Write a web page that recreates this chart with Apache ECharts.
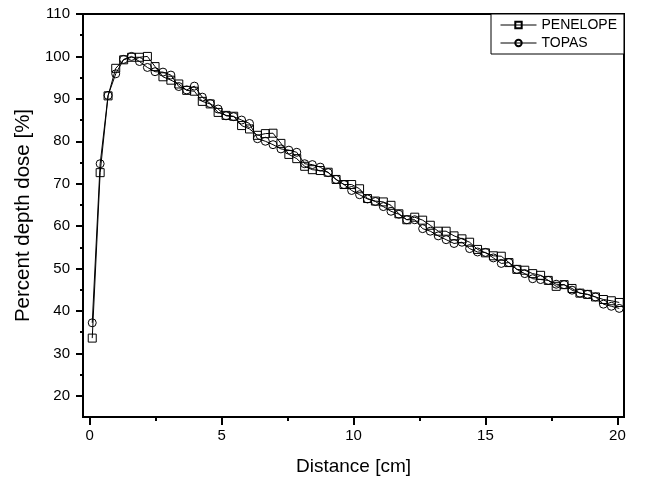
<!DOCTYPE html>
<html>
<head>
<meta charset="utf-8">
<script src="https://cdn.jsdelivr.net/npm/echarts@6/dist/echarts.min.js"></script>
<style>html,body{margin:0;padding:0;background:#fff;}#c{width:656px;height:486px;}</style>
</head>
<body>
<div id="c"></div>
<script>
var distance = [0.10,0.40,0.70,0.99,1.29,1.59,1.89,2.19,2.48,2.78,3.08,3.38,3.68,3.97,4.27,4.57,4.87,5.17,5.46,5.76,6.06,6.36,6.66,6.95,7.25,7.55,7.85,8.15,8.44,8.74,9.04,9.34,9.64,9.93,10.23,10.53,10.83,11.13,11.42,11.72,12.02,12.32,12.62,12.91,13.21,13.51,13.81,14.11,14.40,14.70,15.00,15.30,15.60,15.89,16.19,16.49,16.79,17.09,17.38,17.68,17.98,18.28,18.58,18.87,19.17,19.47,19.77,20.07];
var penelope = [33.6,72.6,90.7,97.2,99.2,99.8,99.8,100.0,97.6,95.2,94.4,93.5,92.0,91.8,89.4,88.8,86.8,86.1,85.9,83.7,82.9,81.4,81.8,81.9,79.5,76.9,75.9,74.1,73.3,73.1,72.7,71.0,69.8,69.8,68.8,66.5,65.9,65.7,64.9,62.9,61.5,62.1,61.4,60.2,58.8,58.8,57.7,57.0,56.2,54.5,53.7,53.0,52.9,51.4,49.8,49.6,48.8,48.4,47.2,45.8,46.2,45.3,44.2,43.9,43.3,42.7,42.4,42.0];
var topas = [37.2,74.7,90.8,95.9,99.3,100.0,98.8,97.4,96.4,96.3,95.6,92.9,92.1,93.0,90.4,88.9,87.6,86.0,85.8,85.0,84.2,80.6,80.0,79.2,78.2,77.9,77.4,74.7,74.5,73.9,72.6,71.0,69.8,68.4,67.4,66.4,65.8,64.6,63.5,62.8,61.5,61.5,59.4,58.8,57.7,56.8,55.9,56.2,54.7,53.9,53.8,52.5,51.2,51.4,49.8,48.8,47.6,47.4,47.2,46.3,46.2,44.9,44.2,43.9,43.3,41.6,41.1,40.6];
var xMajorTicks = [0,5,10,15,20];
var xMinorTicks = [2.5,7.5,12.5,17.5];
var yMajorTicks = [20,30,40,50,60,70,80,90,100,110];
var yMinorTicks = [25,35,45,55,65,75,85,95,105];

var FONT = 'Liberation Sans, Arial, sans-serif';
var chart = echarts.init(document.getElementById('c'), null, {renderer:'canvas'});

function pairs(xs, ys){ return xs.map(function(x,i){ return [x, ys[i]]; }); }

var option = {
  animation: false,
  backgroundColor: '#fff',
  grid: {left:83, right:32, top:14, bottom:69, show:true, borderColor:'#000', borderWidth:2, backgroundColor:'transparent'},
  legend: {
    left: 491, top: 14, orient: 'vertical',
    padding: [4, 7, 4, 9], itemGap: 4, itemWidth: 36, itemHeight: 8, itemTextGap: 5,
    borderColor: '#000', borderWidth: 1, borderRadius: 0, backgroundColor: '#fff',
    lineStyle: {width: 1, color: '#000'},
    textStyle: {fontFamily: FONT, fontSize: 14, color: '#000'},
    data: ['PENELOPE', 'TOPAS']
  },
  xAxis: [{
    type: 'value', min: -0.25, max: 20.25,
    name: 'Distance [cm]', nameLocation: 'middle', nameGap: 40,
    nameTextStyle: {fontFamily: FONT, fontSize: 19, color: '#000'},
    axisLine: {show: true, onZero: false, lineStyle: {color: '#000', width: 2}},
    axisTick: {show: true, customValues: xMajorTicks, length: 8, inside: false, lineStyle: {color: '#000', width: 2}},
    axisLabel: {customValues: xMajorTicks, margin: 11, fontFamily: FONT, fontSize: 15, color: '#000'},
    splitLine: {show: false}
  }, {
    type: 'value', min: -0.25, max: 20.25, position: 'bottom',
    axisLine: {show: false, onZero: false},
    axisTick: {show: true, customValues: xMinorTicks, length: 4, lineStyle: {color: '#000', width: 2}},
    axisLabel: {show: false},
    splitLine: {show: false}
  }],
  yAxis: [{
    type: 'value', min: 15, max: 110,
    name: 'Percent depth dose [%]', nameLocation: 'middle', nameGap: 45,
    nameTextStyle: {fontFamily: FONT, fontSize: 20.5, color: '#000'},
    axisLine: {show: true, onZero: false, lineStyle: {color: '#000', width: 2}},
    axisTick: {show: true, customValues: yMajorTicks, length: 7, lineStyle: {color: '#000', width: 2}},
    axisLabel: {customValues: yMajorTicks, margin: 13, fontFamily: FONT, fontSize: 15, color: '#000'},
    splitLine: {show: false}
  }, {
    type: 'value', min: 15, max: 110, position: 'left',
    axisLine: {show: false, onZero: false},
    axisTick: {show: true, customValues: yMinorTicks, length: 3, lineStyle: {color: '#000', width: 2}},
    axisLabel: {show: false},
    splitLine: {show: false}
  }],
  series: [{
    name: 'PENELOPE', type: 'line', xAxisIndex: 0, yAxisIndex: 0,
    data: pairs(distance, penelope),
    symbol: 'rect', symbolSize: 8, showSymbol: true, showAllSymbol: true,
    lineStyle: {color: '#000', width: 1},
    itemStyle: {color: 'rgba(255,255,255,0)', borderColor: '#000', borderWidth: 1},
    emphasis: {disabled: true}
  }, {
    name: 'TOPAS', type: 'line', xAxisIndex: 0, yAxisIndex: 0,
    data: pairs(distance, topas),
    symbol: 'circle', symbolSize: 8, showSymbol: true, showAllSymbol: true,
    lineStyle: {color: '#000', width: 1},
    itemStyle: {color: 'rgba(255,255,255,0)', borderColor: '#000', borderWidth: 1},
    emphasis: {disabled: true}
  }]
};
chart.setOption(option);
</script>
</body>
</html>
